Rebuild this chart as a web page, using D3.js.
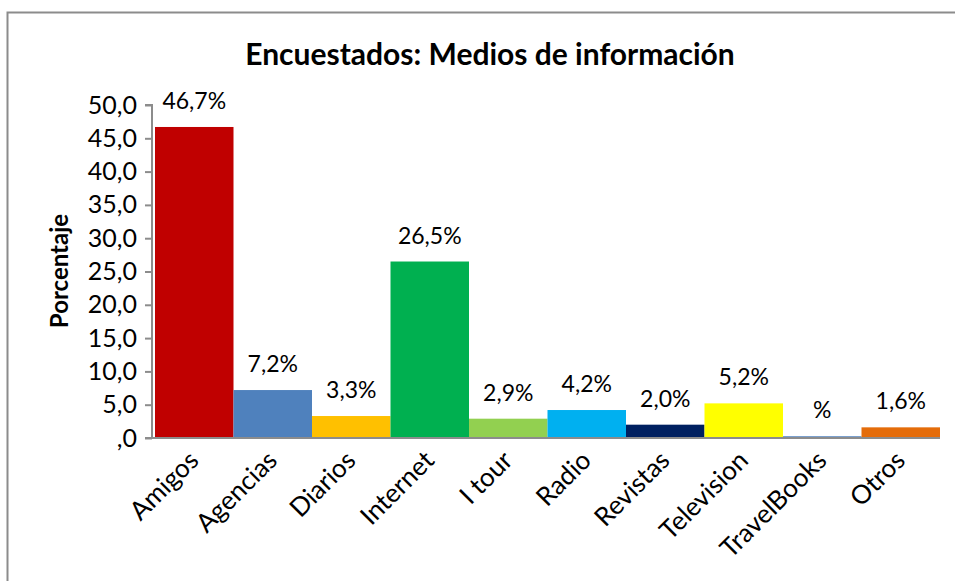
<!DOCTYPE html>
<html>
<head>
<meta charset="utf-8">
<script src="https://cdn.jsdelivr.net/npm/d3@7"></script>
<style>
  body { margin: 0; background: #fff; }
  svg text { font-family: Lato, "Open Sans", sans-serif; fill: #000; }
</style>
</head>
<body>
<svg id="chart" width="955" height="581"></svg>
<script>
// chart data
const categories = ["Amigos", "Agencias", "Diarios", "Internet", "I tour", "Radio", "Revistas", "Television", "TravelBooks", "Otros"];
const values = [46.7, 7.2, 3.3, 26.5, 2.9, 4.2, 2.0, 5.2, 0.3, 1.6];
const valueLabels = ["46,7%", "7,2%", "3,3%", "26,5%", "2,9%", "4,2%", "2,0%", "5,2%", "%", "1,6%"];
const barColors = ["#C00000", "#4F81BD", "#FFC000", "#00B050", "#92D050", "#00B0F0", "#002060", "#FFFF00", "#7BA0CD", "#E46C0A"];
const yTicks = [0, 5, 10, 15, 20, 25, 30, 35, 40, 45, 50];

const svg = d3.select("#chart");

// outer frame
svg.append("rect")
    .attr("x", 7.5).attr("y", 12.5)
    .attr("width", 960).attr("height", 600)
    .attr("fill", "none")
    .attr("stroke", "#8c8c8c")
    .attr("stroke-width", 2);

const x = d3.scaleBand()
    .domain(categories)
    .range([155, 940])
    .padding(0);

const y = d3.scaleLinear()
    .domain([0, 50])
    .range([438, 105]);

// title
svg.append("text")
    .attr("x", 490).attr("y", 65)
    .attr("text-anchor", "middle")
    .style("font-weight", "bold")
    .style("font-size", "30px")
    .text("Encuestados: Medios de información");

// bars
svg.append("g")
    .selectAll("rect")
    .data(values)
    .enter()
    .append("rect")
    .attr("x", (d, i) => x(categories[i]))
    .attr("y", d => y(d))
    .attr("width", x.bandwidth())
    .attr("height", d => y(0) - y(d))
    .attr("fill", (d, i) => barColors[i]);

// value labels
svg.append("g")
    .selectAll("text")
    .data(values)
    .enter()
    .append("text")
    .attr("x", (d, i) => x(categories[i]) + x.bandwidth() / 2)
    .attr("y", d => y(d) - 18)
    .attr("text-anchor", "middle")
    .style("font-size", "23px")
    .text((d, i) => valueLabels[i]);

// y axis
const yAxis = svg.append("g")
    .attr("transform", "translate(152,0)")
    .call(d3.axisLeft(y)
        .tickValues(yTicks)
        .tickSize(7)
        .tickPadding(8)
        .tickFormat(d => d === 0 ? ",0" : d3.format(".1f")(d).replace(".", ",")));
yAxis.selectAll("line, path").attr("stroke", "#8c8c8c").attr("stroke-width", 2);
yAxis.select(".domain").attr("d", "M-7,105H0V438H-7");
yAxis.selectAll("text")
    .style("font-family", "Lato, 'Open Sans', sans-serif")
    .style("font-size", "25px")
    .attr("fill", "#000");

// x axis
const xAxis = svg.append("g")
    .attr("transform", "translate(0,438)")
    .call(d3.axisBottom(x).tickSize(0).tickPadding(0));
xAxis.select(".domain").attr("d", "M151,0H940").attr("stroke", "#8c8c8c").attr("stroke-width", 2);
xAxis.selectAll("text")
    .style("font-family", "Lato, 'Open Sans', sans-serif")
    .style("font-size", "26px")
    .attr("fill", "#000")
    .attr("text-anchor", "end")
    .attr("dy", 0)
    .attr("transform", "translate(6,24) rotate(-45)");

// y axis title
svg.append("text")
    .attr("transform", "translate(68,271) rotate(-90)")
    .attr("text-anchor", "middle")
    .style("font-weight", "bold")
    .style("font-size", "24px")
    .text("Porcentaje");
</script>
</body>
</html>
